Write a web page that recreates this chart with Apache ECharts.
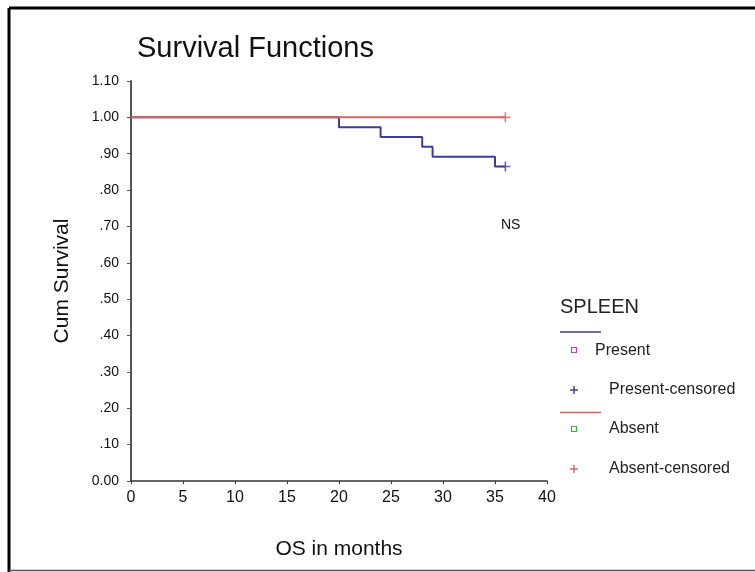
<!DOCTYPE html>
<html>
<head>
<meta charset="utf-8">
<style>
  html, body { margin: 0; padding: 0; background: #ffffff; }
  #chart { width: 755px; height: 572px; }
</style>
<script src="https://cdn.jsdelivr.net/npm/echarts@6/dist/echarts.min.js"></script>
</head>
<body>
<div id="chart"></div>
<script>
// Kaplan-Meier estimate of overall survival by spleen involvement
const presentSteps = [[0, 1.0], [20, 0.973], [24, 0.946], [28, 0.919], [29, 0.892], [35, 0.865], [36, 0.865]];
const presentCensored = [[36, 0.865]];
const absentSteps = [[0, 1.0], [36, 1.0]];
const absentCensored = [[36, 1.0]];

const yTickLabels = ['0.00', '.10', '.20', '.30', '.40', '.50', '.60', '.70', '.80', '.90', '1.00', '1.10'];
const xTickLabels = ['0', '5', '10', '15', '20', '25', '30', '35', '40'];

const titleText = 'Survival Functions';
const xAxisTitle = 'OS in months';
const yAxisTitle = 'Cum Survival';
const noteText = 'NS';
const legendTitle = 'SPLEEN';
const legendItems = ['Present', 'Present-censored', 'Absent', 'Absent-censored'];

const BLUE = '#3c3c9c';
const RED = '#d6625e';
const FONT = '"Liberation Sans", Arial, sans-serif';
const PLUS = 'path://M4.2,0H5.8V4.2H10V5.8H5.8V10H4.2V5.8H0V4.2H4.2Z';

const chart = echarts.init(document.getElementById('chart'), null, { renderer: 'canvas' });

// Legend block drawn as graphic elements
const legendGraphics = [
  { type: 'text', left: 560, top: 297, style: { text: legendTitle, font: '20px ' + FONT, fill: '#222' } },
  { type: 'line', shape: { x1: 560, y1: 332, x2: 601, y2: 332 }, style: { stroke: BLUE, lineWidth: 1.5 } },
  { type: 'rect', shape: { x: 571.5, y: 347.5, width: 5, height: 5 }, style: { fill: 'none', stroke: '#c040c0', lineWidth: 1.2 } },
  { type: 'text', left: 595, top: 343, style: { text: legendItems[0], font: '16px ' + FONT, fill: '#222' } },
  { type: 'line', shape: { x1: 570, y1: 390, x2: 578, y2: 390 }, style: { stroke: BLUE, lineWidth: 1.4 } },
  { type: 'line', shape: { x1: 574, y1: 386, x2: 574, y2: 394 }, style: { stroke: BLUE, lineWidth: 1.4 } },
  { type: 'text', left: 609, top: 382, style: { text: legendItems[1], font: '16px ' + FONT, fill: '#222' } },
  { type: 'line', shape: { x1: 560, y1: 412.5, x2: 601, y2: 412.5 }, style: { stroke: RED, lineWidth: 1.5 } },
  { type: 'rect', shape: { x: 571.5, y: 426.5, width: 5, height: 5 }, style: { fill: 'none', stroke: '#40b040', lineWidth: 1.2 } },
  { type: 'text', left: 609, top: 421, style: { text: legendItems[2], font: '16px ' + FONT, fill: '#222' } },
  { type: 'line', shape: { x1: 570, y1: 469, x2: 578, y2: 469 }, style: { stroke: RED, lineWidth: 1.4 } },
  { type: 'line', shape: { x1: 574, y1: 465, x2: 574, y2: 473 }, style: { stroke: RED, lineWidth: 1.4 } },
  { type: 'text', left: 609, top: 461, style: { text: legendItems[3], font: '16px ' + FONT, fill: '#222' } }
];

// Outer frame: heavy left and top edges, light bottom edge
const frameGraphics = [
  { type: 'line', shape: { x1: 9, y1: 8, x2: 755, y2: 8 }, style: { stroke: '#000', lineWidth: 3 } },
  { type: 'line', shape: { x1: 9, y1: 8, x2: 9, y2: 572 }, style: { stroke: '#000', lineWidth: 3 } },
  { type: 'line', shape: { x1: 9, y1: 570.5, x2: 755, y2: 570.5 }, style: { stroke: '#555', lineWidth: 1.5 } }
];

const option = {
  backgroundColor: '#ffffff',
  animation: false,
  title: {
    text: titleText,
    left: 132,
    top: 29,
    textStyle: { fontFamily: FONT, fontSize: 29, fontWeight: 'normal', color: '#111' }
  },
  grid: { left: 131, right: 208, top: 81, bottom: 91, containLabel: false },
  xAxis: {
    type: 'value',
    min: 0, max: 40, interval: 5,
    name: xAxisTitle,
    nameLocation: 'middle',
    nameGap: 58,
    nameTextStyle: { fontFamily: FONT, fontSize: 21, color: '#111' },
    axisLine: { lineStyle: { color: '#333', width: 1.5 } },
    axisTick: { show: true, length: 3, lineStyle: { color: '#333' } },
    axisLabel: {
      fontFamily: FONT, fontSize: 16, color: '#111', margin: 9,
      formatter: (v) => xTickLabels[Math.round(v / 5)]
    },
    splitLine: { show: false }
  },
  yAxis: {
    type: 'value',
    min: 0, max: 1.1, interval: 0.1,
    name: yAxisTitle,
    nameLocation: 'middle',
    nameGap: 58,
    nameRotate: 90,
    nameTextStyle: { fontFamily: FONT, fontSize: 21, color: '#111' },
    axisLine: { show: true, lineStyle: { color: '#555', width: 2 } },
    axisTick: { show: true, length: 4, lineStyle: { color: '#555' } },
    axisLabel: {
      fontFamily: FONT, fontSize: 14, color: '#111', margin: 12,
      formatter: (v) => yTickLabels[Math.round(v * 10)]
    },
    splitLine: { show: false }
  },
  series: [
    {
      name: legendItems[2], type: 'line', step: 'end', data: absentSteps,
      showSymbol: false, lineStyle: { color: RED, width: 2 }, z: 3
    },
    {
      name: legendItems[0], type: 'line', step: 'end', data: presentSteps,
      showSymbol: false, lineStyle: { color: BLUE, width: 2 }, z: 2
    },
    {
      name: legendItems[3], type: 'scatter', data: absentCensored,
      symbol: PLUS, symbolSize: 10, itemStyle: { color: RED }, z: 4
    },
    {
      name: legendItems[1], type: 'scatter', data: presentCensored,
      symbol: PLUS, symbolSize: 10, itemStyle: { color: BLUE }, z: 4
    }
  ],
  graphic: [
    { type: 'text', left: 501, top: 218, style: { text: noteText, font: '14px ' + FONT, fill: '#111' } }
  ].concat(legendGraphics, frameGraphics)
};

chart.setOption(option);
</script>
</body>
</html>
